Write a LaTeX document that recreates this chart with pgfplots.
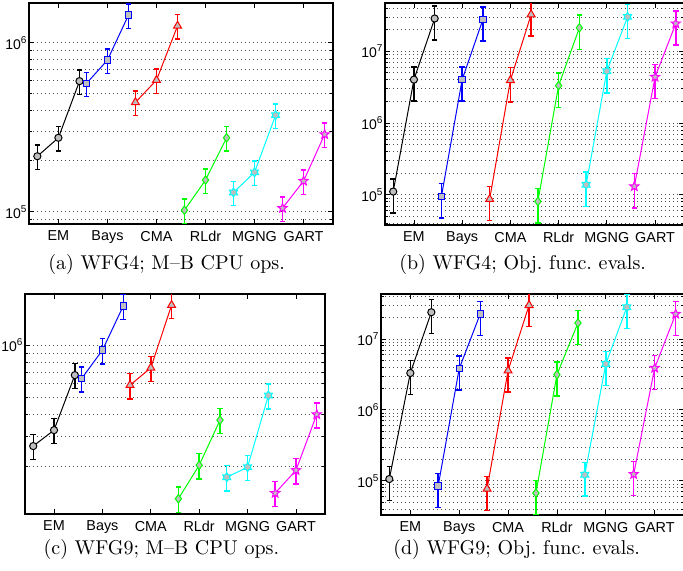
\documentclass[border=0pt]{standalone}
\usepackage{fontspec}
\usepackage{pgfplots}
\pgfplotsset{compat=1.18}
\newfontfamily\mfont{Liberation Sans}
\definecolor{mblue}{rgb}{0,0,1}
\definecolor{mred}{rgb}{1,0,0}
\definecolor{mgreen}{rgb}{0,1,0}
\definecolor{mcyan}{rgb}{0,1,1}
\definecolor{mmag}{rgb}{1,0,1}
\definecolor{mfill}{rgb}{0.75,0.75,0.75}

% six- and five-pointed stars for the last two series
\pgfdeclareplotmark{hexagram}{%
  \pgfpathmoveto{\pgfpointpolar{90}{\pgfplotmarksize}}%
  \pgfpathlineto{\pgfpointpolar{120}{0.577\pgfplotmarksize}}%
  \pgfpathlineto{\pgfpointpolar{150}{\pgfplotmarksize}}%
  \pgfpathlineto{\pgfpointpolar{180}{0.577\pgfplotmarksize}}%
  \pgfpathlineto{\pgfpointpolar{210}{\pgfplotmarksize}}%
  \pgfpathlineto{\pgfpointpolar{240}{0.577\pgfplotmarksize}}%
  \pgfpathlineto{\pgfpointpolar{270}{\pgfplotmarksize}}%
  \pgfpathlineto{\pgfpointpolar{300}{0.577\pgfplotmarksize}}%
  \pgfpathlineto{\pgfpointpolar{330}{\pgfplotmarksize}}%
  \pgfpathlineto{\pgfpointpolar{0}{0.577\pgfplotmarksize}}%
  \pgfpathlineto{\pgfpointpolar{30}{\pgfplotmarksize}}%
  \pgfpathlineto{\pgfpointpolar{60}{0.577\pgfplotmarksize}}%
  \pgfpathclose\pgfusepathqfillstroke}
\pgfdeclareplotmark{pentagram}{%
  \pgfpathmoveto{\pgfpointpolar{90}{\pgfplotmarksize}}%
  \pgfpathlineto{\pgfpointpolar{126}{0.42\pgfplotmarksize}}%
  \pgfpathlineto{\pgfpointpolar{162}{\pgfplotmarksize}}%
  \pgfpathlineto{\pgfpointpolar{198}{0.42\pgfplotmarksize}}%
  \pgfpathlineto{\pgfpointpolar{234}{\pgfplotmarksize}}%
  \pgfpathlineto{\pgfpointpolar{270}{0.42\pgfplotmarksize}}%
  \pgfpathlineto{\pgfpointpolar{306}{\pgfplotmarksize}}%
  \pgfpathlineto{\pgfpointpolar{342}{0.42\pgfplotmarksize}}%
  \pgfpathlineto{\pgfpointpolar{18}{\pgfplotmarksize}}%
  \pgfpathlineto{\pgfpointpolar{54}{0.42\pgfplotmarksize}}%
  \pgfpathclose\pgfusepathqfillstroke}

\pgfplotsset{
  wfgpanel/.style={
    scale only axis, anchor=north west,
    xmin=0.4, xmax=6.6,
    xtick={1,2,3,4,5,6}, xticklabels={EM,Bays,CMA,RLdr,MGNG,GART},
    tick align=inside, tick pos=both,
    ticklabel style={font=\mfont\fontsize{7.2}{8}\selectfont},
    yticklabel style={font=\mfont\fontsize{7}{8}\selectfont, inner xsep=0.6pt},
    major tick length=2.5pt, minor tick length=1.4pt,
    every tick/.style={black, line width=0.4pt},
    ymajorgrids, yminorgrids,
    major grid style={black!70, line width=0.4pt, dash pattern=on 0.45pt off 1.55pt},
    minor grid style={black!70, line width=0.4pt, dash pattern=on 0.45pt off 1.55pt},
    axis line style={line width=0.8pt},
  },
  eb/.style={line width=0.5pt, mark size=#1,
    error bars/y dir=both, error bars/y explicit relative,
    error bars/error mark=|,
    error bars/error bar style={line width=0.7pt, solid},
    error bars/error mark options={mark size=1.4pt, line width=0.7pt}},
  s1/.style={color=black, mark=*, eb=1.8pt, mark options={fill=mfill}},
  s2/.style={color=mblue, mark=square*, eb=1.6pt, mark options={fill=mfill}},
  s3/.style={color=mred, mark=triangle*, eb=2.3pt, mark options={fill=mfill}},
  s4/.style={color=mgreen, mark=diamond*, eb=2.1pt, mark options={fill=mfill}},
  s5/.style={color=mcyan, mark=hexagram, eb=2.3pt, mark options={fill=mfill}},
  s6/.style={color=mmag, mark=pentagram, eb=2.4pt, mark options={fill=mfill}},
}

\begin{document}
\begin{tikzpicture}

% (a) WFG4, M-B CPU ops
\begin{axis}[wfgpanel, ymode=log, at={(14.5pt,-1.5pt)}, width=152pt, height=110.5pt,
  ymin=8.46e4, ymax=1.72e6,
  ytick={1e5,1e6}, yticklabels={10\textsuperscript{5},10\textsuperscript{6}},
  minor ytick={9e4,2e5,3e5,4e5,5e5,6e5,7e5,8e5,9e5}]
\addplot[s1] coordinates {(0.57,2.13e5) +- (0,0.165) (1,2.74e5) +- (0,0.165) (1.43,5.93e5) +- (0,0.165)};
\addplot[s2] coordinates {(1.57,5.74e5) +- (0,0.165) (2,7.90e5) +- (0,0.165) (2.43,1.46e6) +- (0,0.165)};
\addplot[s3] coordinates {(2.57,4.44e5) +- (0,0.165) (3,6.01e5) +- (0,0.165) (3.43,1.26e6) +- (0,0.165)};
\addplot[s4] coordinates {(3.57,1.02e5) +- (0,0.165) (4,1.54e5) +- (0,0.165) (4.43,2.74e5) +- (0,0.165)};
\addplot[s5] coordinates {(4.57,1.30e5) +- (0,0.165) (5,1.71e5) +- (0,0.165) (5.43,3.73e5) +- (0,0.165)};
\addplot[s6] coordinates {(5.57,1.05e5) +- (0,0.165) (6,1.52e5) +- (0,0.165) (6.43,2.87e5) +- (0,0.165)};
\end{axis}

% (b) WFG4, objective function evaluations
\begin{axis}[wfgpanel, ymode=log, at={(192.5pt,-1.5pt)}, width=149.5pt, height=111pt,
  ymin=3.8e4, ymax=4.7e7,
  ytick={1e5,1e6,1e7}, yticklabels={10\textsuperscript{5},10\textsuperscript{6},10\textsuperscript{7}},
  minor ytick={4e4,5e4,6e4,7e4,8e4,9e4,2e5,3e5,4e5,5e5,6e5,7e5,8e5,9e5,
    2e6,3e6,4e6,5e6,6e6,7e6,8e6,9e6,2e7,3e7,4e7}]
\addplot[s1] coordinates {(0.57,1.11e5) +- (0,0.5) (1,4.03e6) +- (0,0.5) (1.43,2.86e7) +- (0,0.5)};
\addplot[s2] coordinates {(1.57,9.5e4) +- (0,0.5) (2,4.03e6) +- (0,0.5) (2.43,2.77e7) +- (0,0.5)};
\addplot[s3] coordinates {(2.57,8.7e4) +- (0,0.5) (3,3.94e6) +- (0,0.5) (3.43,3.25e7) +- (0,0.5)};
\addplot[s4] coordinates {(3.57,8.1e4) +- (0,0.5) (4,3.32e6) +- (0,0.5) (4.43,2.12e7) +- (0,0.5)};
\addplot[s5] coordinates {(4.57,1.38e5) +- (0,0.5) (5,5.26e6) +- (0,0.5) (5.43,3.01e7) +- (0,0.5)};
\addplot[s6] coordinates {(5.57,1.31e5) +- (0,0.5) (6,4.38e6) +- (0,0.5) (6.43,2.43e7) +- (0,0.5)};
\end{axis}

% (c) WFG9, M-B CPU ops
\begin{axis}[wfgpanel, ymode=log, at={(12.5pt,-147pt)}, width=150pt, height=110pt,
  ymin=1.07e5, ymax=1.97e6,
  ytick={1e6}, yticklabels={10\textsuperscript{6}},
  minor ytick={2e5,3e5,4e5,5e5,6e5,7e5,8e5,9e5}]
\addplot[s1] coordinates {(0.57,2.63e5) +- (0,0.165) (1,3.25e5) +- (0,0.165) (1.43,6.73e5) +- (0,0.165)};
\addplot[s2] coordinates {(1.57,6.43e5) +- (0,0.165) (2,9.36e5) +- (0,0.165) (2.43,1.68e6) +- (0,0.165)};
\addplot[s3] coordinates {(2.57,5.89e5) +- (0,0.165) (3,7.41e5) +- (0,0.165) (3.43,1.70e6) +- (0,0.165)};
\addplot[s4] coordinates {(3.57,1.31e5) +- (0,0.165) (4,2.04e5) +- (0,0.165) (4.43,3.71e5) +- (0,0.165)};
\addplot[s5] coordinates {(4.57,1.74e5) +- (0,0.165) (5,1.99e5) +- (0,0.165) (5.43,5.14e5) +- (0,0.165)};
\addplot[s6] coordinates {(5.57,1.41e5) +- (0,0.165) (6,1.91e5) +- (0,0.165) (6.43,4.00e5) +- (0,0.165)};
\end{axis}

% (d) WFG9, objective function evaluations
\begin{axis}[wfgpanel, ymode=log, at={(190.5pt,-147pt)}, width=151.5pt, height=110.5pt,
  ymin=3.3e4, ymax=4.3e7,
  ytick={1e5,1e6,1e7}, yticklabels={10\textsuperscript{5},10\textsuperscript{6},10\textsuperscript{7}},
  minor ytick={4e4,5e4,6e4,7e4,8e4,9e4,2e5,3e5,4e5,5e5,6e5,7e5,8e5,9e5,
    2e6,3e6,4e6,5e6,6e6,7e6,8e6,9e6,2e7,3e7,4e7}]
\addplot[s1] coordinates {(0.57,1.06e5) +- (0,0.5) (1,3.31e6) +- (0,0.5) (1.43,2.38e7) +- (0,0.5)};
\addplot[s2] coordinates {(1.57,8.5e4) +- (0,0.5) (2,3.81e6) +- (0,0.5) (2.43,2.25e7) +- (0,0.5)};
\addplot[s3] coordinates {(2.57,7.7e4) +- (0,0.5) (3,3.57e6) +- (0,0.5) (3.43,2.99e7) +- (0,0.5)};
\addplot[s4] coordinates {(3.57,6.7e4) +- (0,0.5) (4,3.14e6) +- (0,0.5) (4.43,1.68e7) +- (0,0.5)};
\addplot[s5] coordinates {(4.57,1.22e5) +- (0,0.5) (5,4.44e6) +- (0,0.5) (5.43,2.80e7) +- (0,0.5)};
\addplot[s6] coordinates {(5.57,1.24e5) +- (0,0.5) (6,3.90e6) +- (0,0.5) (6.43,2.25e7) +- (0,0.5)};
\end{axis}

\begin{scope}[every node/.style={anchor=base, inner sep=0pt, font=\fontsize{10}{12}\selectfont}]
\node at (83.3pt,-134.7pt) {(a) WFG4; M--B CPU ops.};
\node at (261.3pt,-134.7pt) {(b) WFG4; Obj.\ func.\ evals.};
\node at (80.7pt,-277pt) {(c) WFG9; M--B CPU ops.};
\node at (258.3pt,-277pt) {(d) WFG9; Obj.\ func.\ evals.};
\end{scope}

\pgfresetboundingbox
\path[use as bounding box] (0,0) rectangle (341.5pt,-285pt);
\end{tikzpicture}
\end{document}
